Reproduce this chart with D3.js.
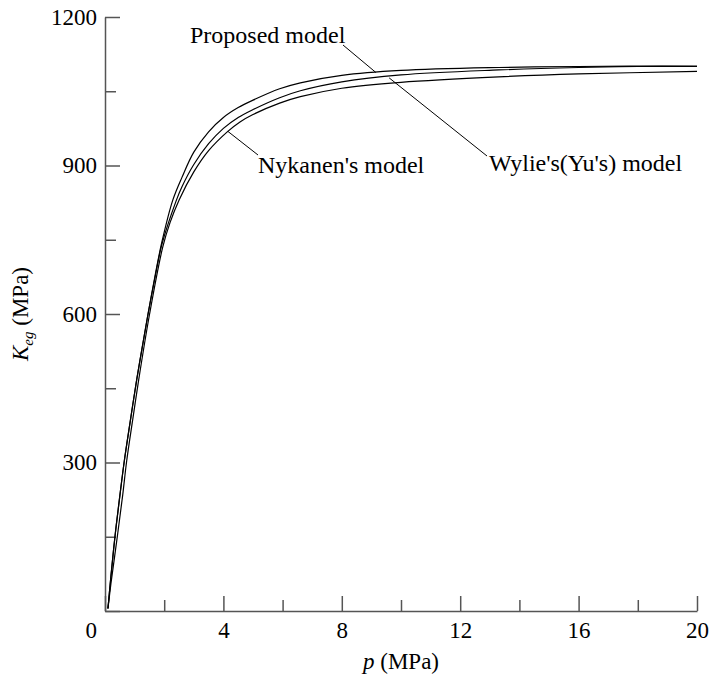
<!DOCTYPE html>
<html>
<head>
<meta charset="utf-8">
<script src="https://cdn.jsdelivr.net/npm/d3@7/dist/d3.min.js"></script>
<style>
  html, body { margin: 0; padding: 0; background: #fff; }
  svg { display: block; }
</style>
</head>
<body>
<svg id="chart" width="711" height="679" font-family="Liberation Serif, Times New Roman, serif"></svg>
<script>
// ---- data ----
const xMajorTicks = [0, 4, 8, 12, 16, 20];
const xMinorTicks = [2, 6, 10, 14, 18];
const yMajorTicks = [0, 300, 600, 900, 1200];
const yMinorTicks = [150, 450, 750, 1050];

const proposedP = [0.1, 0.2, 0.34, 0.5, 0.65, 0.85, 1.07, 1.25, 1.46, 1.7, 1.92, 2.29, 2.6, 3.0, 3.5, 4.0, 4.5, 5.0, 5.9, 6.6, 8, 10, 13.3, 16, 20];
const proposedK = [5, 70, 152, 232, 302, 382, 467, 530, 602, 680, 745, 830, 876, 927, 968, 997, 1017, 1032, 1055, 1067, 1082, 1092, 1098, 1100, 1101];

const wylieP = [0.1, 0.2, 0.34, 0.5, 0.65, 0.85, 1.07, 1.25, 1.46, 1.7, 1.92, 2.4, 2.6, 3.0, 3.5, 4.0, 4.5, 5.0, 5.9, 6.6, 8, 10, 13.3, 16, 18, 20];
const wylieK = [5, 70, 152, 232, 302, 382, 467, 530, 602, 677, 740, 828, 857, 902, 944, 975, 997, 1013, 1037, 1051, 1069, 1083, 1093, 1098, 1100, 1100];

const nykanenP = [0.1, 0.2, 0.42, 0.6, 0.73, 0.95, 1.12, 1.5, 1.95, 2.2, 2.5, 3.0, 3.5, 4.13, 4.56, 5.0, 5.9, 6.6, 8, 10, 13.3, 16, 20];
const nykanenK = [5, 55, 152, 235, 302, 392, 460, 598, 735, 785, 830, 887, 930, 968, 988, 1003, 1026, 1039, 1056, 1068, 1079, 1085, 1090];

const seriesNames = ["Proposed model", "Wylie's(Yu's) model", "Nykanen's model"];

// ---- scales ----
const svg = d3.select("#chart");
const x = d3.scaleLinear().domain([0, 20]).range([105, 697]);
const y = d3.scaleLinear().domain([0, 1200]).range([611, 17]);

const axisColor = "#555";
const serif = "Liberation Serif, Times New Roman, serif";

// x axis
const gx = svg.append("g").attr("transform", "translate(0,611)");
gx.call(d3.axisBottom(x).tickValues(xMajorTicks).tickSizeInner(-15).tickSizeOuter(0).tickPadding(11)
  .tickFormat(d => d === 0 ? "" : d3.format("d")(d)));
gx.append("g").call(d3.axisBottom(x).tickValues(xMinorTicks).tickSizeInner(-11).tickSizeOuter(0).tickFormat(""))
  .select(".domain").remove();

// y axis
const gy = svg.append("g").attr("transform", "translate(105,0)");
gy.call(d3.axisLeft(y).tickValues(yMajorTicks).tickSizeInner(-15).tickSizeOuter(0).tickPadding(8)
  .tickFormat(d => d === 0 ? "" : d3.format("d")(d)));
gy.append("g").call(d3.axisLeft(y).tickValues(yMinorTicks).tickSizeInner(-11).tickSizeOuter(0).tickFormat(""))
  .select(".domain").remove();

[gx, gy].forEach(g => g.attr("font-family", serif).attr("font-size", 23));
svg.selectAll(".domain, .tick line").attr("stroke", axisColor).attr("stroke-width", 1.5);
svg.selectAll(".tick text").attr("fill", "#000").attr("font-family", serif).attr("font-size", 23);

// shared origin label "0"
svg.append("text").attr("x", x(0) - 8).attr("y", 638).attr("text-anchor", "end")
  .attr("font-size", 23).text("0");

// axis titles
const xt = svg.append("text").attr("x", x(10)).attr("y", 669).attr("text-anchor", "middle").attr("font-size", 23);
xt.append("tspan").attr("font-style", "italic").text("p");
xt.append("tspan").text(" (MPa)");

const yt = svg.append("text").attr("transform", "translate(28,314) rotate(-90)").attr("text-anchor", "middle").attr("font-size", 23);
yt.append("tspan").attr("font-style", "italic").text("K");
yt.append("tspan").attr("font-style", "italic").attr("font-size", 15).attr("dy", 5).text("eg");
yt.append("tspan").attr("dy", -5).text(" (MPa)");

// curves
const line = d3.line().x(d => x(d[0])).y(d => y(d[1])).curve(d3.curveCatmullRom.alpha(0.5));
const series = [
  d3.zip(proposedP, proposedK),
  d3.zip(wylieP, wylieK),
  d3.zip(nykanenP, nykanenK)
];
svg.append("g").selectAll("path").data(series).join("path")
  .attr("d", line).attr("fill", "none").attr("stroke", "#000").attr("stroke-width", 1.2);

// labels with leader lines
const labelFont = 24;
function leader(x1, y1, x2, y2) {
  svg.append("line").attr("x1", x1).attr("y1", y1).attr("x2", x2).attr("y2", y2)
    .attr("stroke", "#000").attr("stroke-width", 1);
}
// Proposed
svg.append("text").attr("x", 190).attr("y", 43).attr("font-size", labelFont).text(seriesNames[0]);
leader(343, 45, x(9.15), y(1088));
// Wylie
svg.append("text").attr("x", 489).attr("y", 171).attr("font-size", labelFont).text(seriesNames[1]);
leader(487, 156, x(9.6), y(1077));
// Nykanen
svg.append("text").attr("x", 258).attr("y", 173).attr("font-size", labelFont).text(seriesNames[2]);
leader(258, 155, x(4.15), y(969));
</script>
</body>
</html>
